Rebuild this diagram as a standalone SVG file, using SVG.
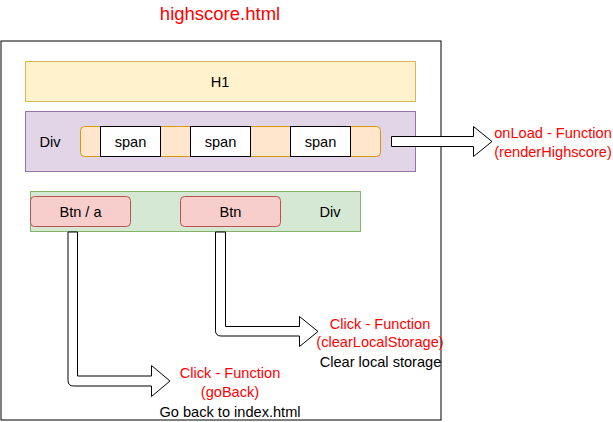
<svg xmlns="http://www.w3.org/2000/svg" width="613" height="422" viewBox="0 0 613 422">
<style>
text{font-family:"Liberation Sans",Arial,sans-serif;font-size:14.6px;fill:#000;text-anchor:middle;dominant-baseline:central}
.red{fill:#ff0000}
.title{font-size:18.5px}
.arrow{fill:#fff;stroke:#000;stroke-width:1}
</style>
<rect width="613" height="422" fill="#fff"/>
<text class="red title" x="220" y="13.5">highscore.html</text>
<g id="page"><rect x="1" y="41" width="440" height="379" fill="#fff" stroke="#000"/></g>
<g id="h1"><rect x="25.5" y="61.5" width="390" height="40" fill="#fff2cc" stroke="#d6b656"/><text x="220" y="81.5">H1</text></g>
<g id="div1"><rect x="25.5" y="111.5" width="390" height="60" fill="#e1d5e7" stroke="#9673a6"/><text x="50" y="142">Div</text></g>
<g id="spans"><rect x="80.5" y="126.5" width="300" height="30" rx="4" fill="#ffe6cc" stroke="#d79b00"/></g>
<g id="span1"><rect x="100.5" y="126.5" width="60" height="30" fill="#fff" stroke="#000"/><text x="130.5" y="142">span</text></g>
<g id="span2"><rect x="190.5" y="126.5" width="60" height="30" fill="#fff" stroke="#000"/><text x="220.5" y="142">span</text></g>
<g id="span3"><rect x="290.5" y="126.5" width="60" height="30" fill="#fff" stroke="#000"/><text x="320.5" y="142">span</text></g>
<g id="div2"><rect x="30.5" y="191.5" width="330" height="40" fill="#d5e8d4" stroke="#82b366"/><text x="330" y="212">Div</text></g>
<g id="btnA"><rect x="30.5" y="196.5" width="100" height="30" rx="4" fill="#f8cecc" stroke="#b85450"/><text x="80.5" y="212">Btn / a</text></g>
<g id="btn"><rect x="180.5" y="196.5" width="100" height="30" rx="4" fill="#f8cecc" stroke="#b85450"/><text x="230.5" y="212">Btn</text></g>
<g id="connectors">
<path class="arrow" d="M391.5 136.5 H473.5 V126.5 L492 141.5 L473.5 156.5 V146.5 H391.5 Z"/>
<path class="arrow" d="M68 232 V380.5 Q68 386 73.5 386 H151.5 V396.5 L170 381 L151.5 365.5 V376 H77.5 V232 Z"/>
<path class="arrow" d="M215.5 232 V330.5 Q215.5 336 221 336 H299.5 V346.5 L318 331.5 L299.5 316.5 V326.5 H225.5 V232 Z"/>
</g>
<g id="onload"><text class="red" x="553" y="133">onLoad - Function</text><text class="red" x="553" y="151.5">(renderHighscore)</text></g>
<g id="clear"><text class="red" x="380" y="323.5">Click - Function</text><text class="red" x="380" y="341.5">(clearLocalStorage)</text><text x="380.5" y="361.5">Clear local storage</text></g>
<g id="goback"><text class="red" x="230" y="373">Click - Function</text><text class="red" x="230" y="391.5">(goBack)</text><text x="230" y="411.5">Go back to index.html</text></g>
</svg>
